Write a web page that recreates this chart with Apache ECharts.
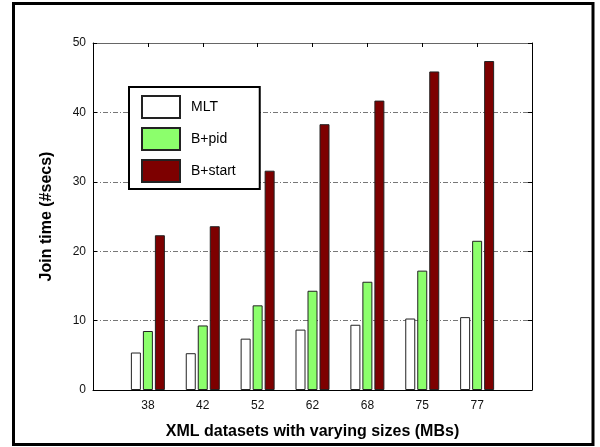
<!DOCTYPE html>
<html>
<head>
<meta charset="utf-8">
<script src="https://cdn.jsdelivr.net/npm/echarts@6/dist/echarts.min.js"></script>
<style>html,body{margin:0;padding:0;background:#fff}#c{width:600px;height:447px}</style>
</head>
<body>
<div id="c"></div>
<script>
const categories = ['38', '42', '52', '62', '68', '75', '77'];
const seriesNames = ['MLT', 'B+pid', 'B+start'];
const mlt = [5.4, 5.3, 7.4, 8.7, 9.4, 10.3, 10.5];
const bpid = [8.5, 9.3, 12.2, 14.3, 15.6, 17.2, 21.5];
const bstart = [22.3, 23.6, 31.6, 38.3, 41.7, 45.9, 47.4];
const yTicks = [0, 10, 20, 30, 40, 50];

const FONT = "'Liberation Sans', Arial, sans-serif";
const axisCats = [''].concat(categories, ['']);
const pad = arr => [null].concat(arr, [null]);
const colors = ['#ffffff', '#8cff6c', '#7d0000'];

const chart = echarts.init(document.getElementById('c'), null, {renderer: 'canvas'});
chart.setOption({
  animation: false,
  backgroundColor: '#fff',
  textStyle: {fontFamily: FONT},
  grid: {left: 93, right: 68, top: 43, bottom: 57, show: false},
  legend: {
    left: 129, top: 87, orient: 'vertical',
    data: seriesNames.map(n => ({name: n, icon: 'rect'})),
    itemWidth: 38, itemHeight: 22, itemGap: 8,
    padding: [8, 24, 6, 12],
    borderColor: '#000', borderWidth: 2, backgroundColor: '#fff',
    textStyle: {fontFamily: FONT, fontSize: 14, color: '#000', padding: [0, 0, 0, 6]},
    selectedMode: false
  },
  xAxis: [{
    type: 'category', data: axisCats, boundaryGap: false, position: 'bottom',
    axisLine: {show: true, onZero: false, lineStyle: {color: '#000', width: 1}},
    axisTick: {show: true, inside: true, length: 4, interval: 0, lineStyle: {color: '#000'}},
    axisLabel: {show: true, interval: 0, margin: 10, fontSize: 12, color: '#111', fontFamily: FONT},
    splitLine: {show: false},
    name: 'XML datasets with varying sizes (MBs)', nameLocation: 'middle', nameGap: 34,
    nameTextStyle: {fontSize: 16, fontWeight: 'bold', color: '#000', fontFamily: FONT}
  }, {
    type: 'category', data: axisCats, boundaryGap: false, position: 'top',
    axisLine: {show: true, onZero: false, lineStyle: {color: '#666', width: 1}},
    axisTick: {show: true, inside: true, length: 4, interval: 0, lineStyle: {color: '#000'}},
    axisLabel: {show: false}, splitLine: {show: false}
  }],
  yAxis: [{
    type: 'value', min: yTicks[0], max: yTicks[yTicks.length - 1], interval: 10,
    axisLine: {show: true, onZero: false, lineStyle: {color: '#000', width: 1}},
    axisTick: {show: true, inside: true, length: 4, lineStyle: {color: '#000'}},
    axisLabel: {margin: 7, fontSize: 12, color: '#111', fontFamily: FONT},
    splitLine: {show: true, showMinLine: false, showMaxLine: false,
                lineStyle: {color: '#777', width: 1, type: [5, 2, 1, 2]}},
    name: 'Join time (#secs)', nameLocation: 'middle', nameGap: 38,
    nameTextStyle: {fontSize: 16, fontWeight: 'bold', color: '#000', fontFamily: FONT}
  }, {
    type: 'value', min: yTicks[0], max: yTicks[yTicks.length - 1], interval: 10, position: 'right',
    axisLine: {show: true, onZero: false, lineStyle: {color: '#000', width: 1}},
    axisTick: {show: true, inside: true, length: 4, lineStyle: {color: '#000'}},
    axisLabel: {show: false}, splitLine: {show: false}
  }],
  series: [
    {name: seriesNames[0], type: 'bar', data: pad(mlt), barWidth: 10, barGap: '20%',
     itemStyle: {color: colors[0], borderColor: '#222', borderWidth: 1}},
    {name: seriesNames[1], type: 'bar', data: pad(bpid), barWidth: 10, barGap: '20%',
     itemStyle: {color: colors[1], borderColor: '#222', borderWidth: 1}},
    {name: seriesNames[2], type: 'bar', data: pad(bstart), barWidth: 10, barGap: '20%',
     itemStyle: {color: colors[2], borderColor: '#222', borderWidth: 1}}
  ],
  graphic: [{
    type: 'rect', silent: true, z: 100,
    shape: {x: 13.5, y: 3.5, width: 579.5, height: 441},
    style: {fill: 'none', stroke: '#000', lineWidth: 3}
  }]
});
</script>
</body>
</html>
